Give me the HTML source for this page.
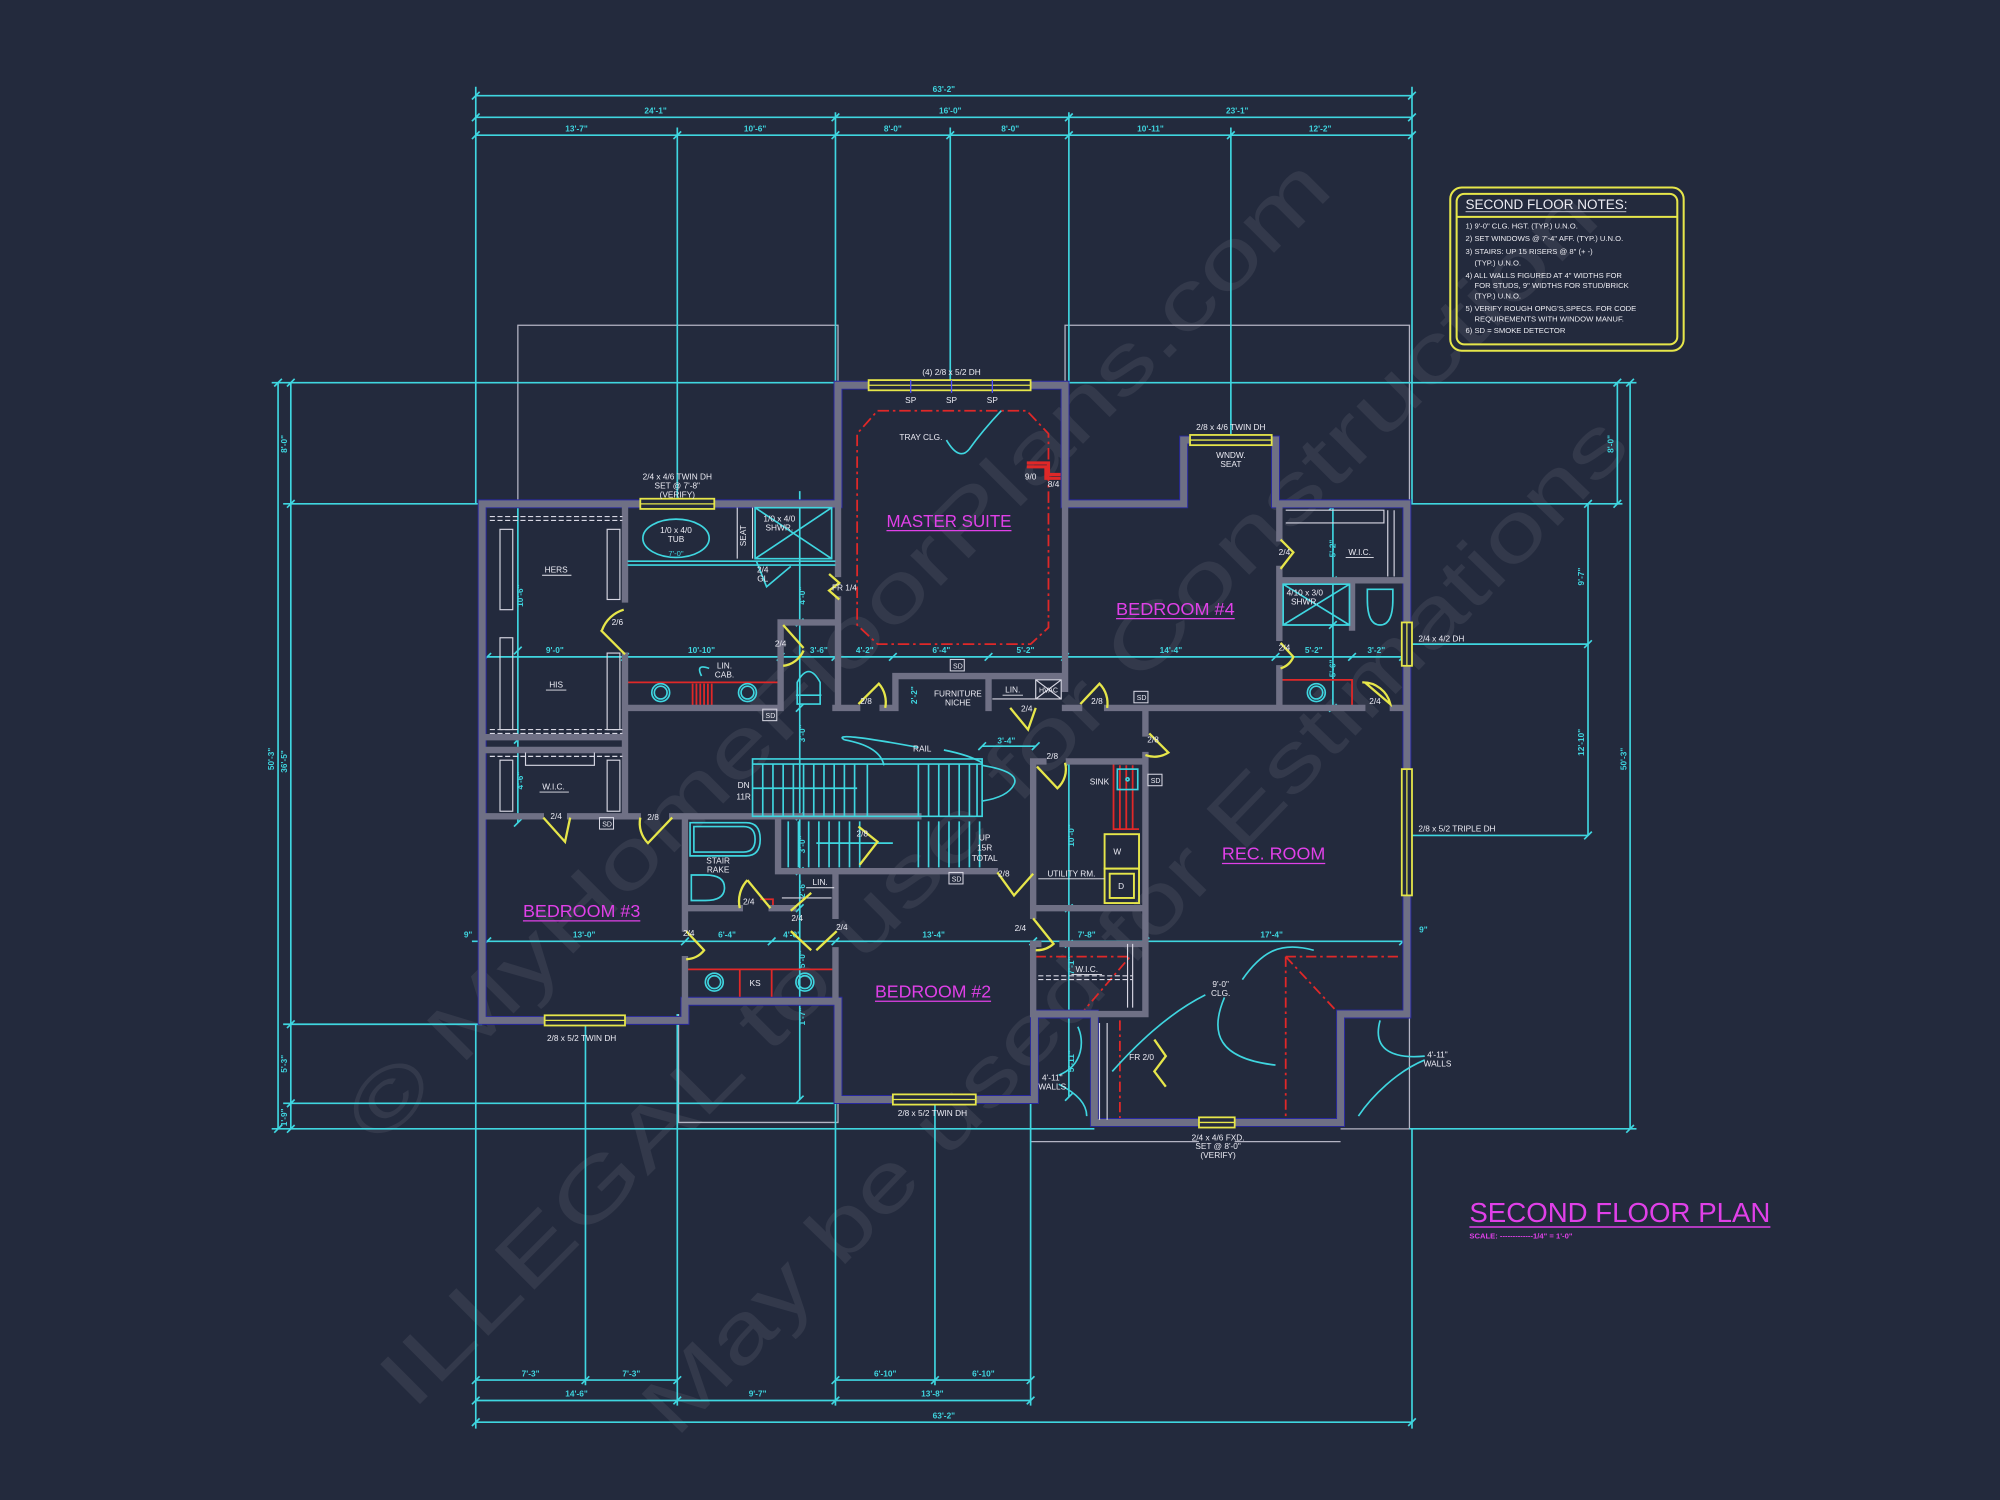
<!DOCTYPE html>
<html><head><meta charset="utf-8">
<style>
html,body{margin:0;padding:0;background:#232a3d;overflow:hidden}
svg{display:block}
text{font-family:"Liberation Sans",sans-serif}
</style></head><body>
<svg width="2000" height="1500" viewBox="0 0 1568 1176" xmlns="http://www.w3.org/2000/svg">
<rect width="1568" height="1176" fill="#232a3d"/>

<!-- watermark -->
<g font-family="Liberation Serif, serif" fill="#ffffff" opacity="0.07" font-size="64">
<text x="672" y="525" text-anchor="middle" transform="rotate(-45 672 525)" textLength="1060" lengthAdjust="spacingAndGlyphs">© MyHomeFloorPlans.com</text>
<text x="790" y="640" text-anchor="middle" transform="rotate(-45 790 640)" textLength="1320" lengthAdjust="spacingAndGlyphs">ILLEGAL to use for Construction</text>
<text x="905" y="740" text-anchor="middle" transform="rotate(-46 905 740)" textLength="1080" lengthAdjust="spacingAndGlyphs">May be used for Estimations</text>
</g>

<!-- roof / outline lines -->
<g stroke="#b4b4c4" stroke-width="1" fill="none">
<path d="M406,395V255H657V302 M835,302V255H1105V885H1051 M532,795V880H657V865 M808,862V895H940 M968,895H1051"/>
</g>

<!-- dimension lines -->
<g stroke="#3fd6e0" stroke-width="1.3" fill="none">
<path d="M373,75H1107 M373,92H1107 M373,106H1107"/>
<path d="M373,68V395 M531,100V393 M655,88V302 M745,100V300 M838,88V300 M965,100V343 M1107,68V395"/>
<path d="M218,300V885 M228,300V885 M213,300H657 M835,300H1283 M222,395H378 M222,803H378 M222,865H657 M213,885H858 M1105,885H1283 M1105,395H1272 M1107,505H1245 M1107,655H1245 M1278,300V885 M1268,300V395 M1245,395V655"/>
<path d="M373,1082H531 M655,1082H808 M373,1098H808 M373,1115H1107 M373,803V1120 M459,803V1086 M531,795V1102 M655,865V1102 M733,865V1086 M808,862V1102 M1107,885V1120"/>
<path d="M382,515H1100 M370,738H1100 M406,395V645 M627,385V862 M1045,397V555 M838,598V860 M770,585H812"/>
<path d="M370,78l6,-6 M1104,78l6,-6 M370,95l6,-6 M652,95l6,-6 M835,95l6,-6 M1104,95l6,-6 M370,109l6,-6 M528,109l6,-6 M652,109l6,-6 M742,109l6,-6 M835,109l6,-6 M962,109l6,-6 M1104,109l6,-6
M215,303l6,-6 M215,888l6,-6 M225,303l6,-6 M225,398l6,-6 M225,806l6,-6 M225,868l6,-6 M225,888l6,-6 M1275,303l6,-6 M1275,888l6,-6 M1265,303l6,-6 M1265,398l6,-6 M1242,398l6,-6 M1242,508l6,-6 M1242,658l6,-6
M370,1085l6,-6 M456,1085l6,-6 M528,1085l6,-6 M652,1085l6,-6 M730,1085l6,-6 M805,1085l6,-6 M370,1101l6,-6 M528,1101l6,-6 M652,1101l6,-6 M805,1101l6,-6 M370,1118l6,-6 M1104,1118l6,-6
M379,518l6,-6 M487,518l6,-6 M609,518l6,-6 M652,518l6,-6 M697,518l6,-6 M772,518l6,-6 M832,518l6,-6 M997,518l6,-6 M1057,518l6,-6 M1097,518l6,-6
M379,741l6,-6 M534,741l6,-6 M602,741l6,-6 M652,741l6,-6 M807,741l6,-6 M895,741l6,-6 M1097,741l6,-6
M403,398l6,-6 M403,513l6,-6 M403,583l6,-6 M403,648l6,-6 M624,398l6,-6 M624,491l6,-6 M624,558l6,-6 M624,643l6,-6 M624,686l6,-6 M624,715l6,-6 M624,788l6,-6 M624,865l6,-6
M1042,400l6,-6 M1042,458l6,-6 M1042,493l6,-6 M1042,558l6,-6 M835,601l6,-6 M835,715l6,-6 M835,743l6,-6 M835,798l6,-6 M835,863l6,-6 M767,588l6,-6 M809,588l6,-6"/>
</g>

<!-- dimension text -->
<g fill="#3fd6e0" font-size="6.5" text-anchor="middle" font-weight="bold">
<text x="740" y="72">63'-2"</text>
<text x="514" y="89">24'-1"</text><text x="745" y="89">16'-0"</text><text x="970" y="89">23'-1"</text>
<text x="452" y="103">13'-7"</text><text x="592" y="103">10'-6"</text><text x="700" y="103">8'-0"</text><text x="792" y="103">8'-0"</text><text x="902" y="103">10'-11"</text><text x="1035" y="103">12'-2"</text>
<text x="416" y="1079">7'-3"</text><text x="495" y="1079">7'-3"</text><text x="694" y="1079">6'-10"</text><text x="771" y="1079">6'-10"</text>
<text x="452" y="1095">14'-6"</text><text x="594" y="1095">9'-7"</text><text x="731" y="1095">13'-8"</text>
<text x="740" y="1112">63'-2"</text>
<text transform="translate(215,595) rotate(-90)">50'-3"</text>
<text transform="translate(225,348) rotate(-90)">8'-0"</text>
<text transform="translate(225,597) rotate(-90)">36'-5"</text>
<text transform="translate(225,834) rotate(-90)">5'-3"</text>
<text transform="translate(225,876) rotate(-90)">1'-9"</text>
<text transform="translate(1265,348) rotate(-90)">8'-0"</text>
<text transform="translate(1242,452) rotate(-90)">9'-7"</text>
<text transform="translate(1242,582) rotate(-90)">12'-10"</text>
<text transform="translate(1275,595) rotate(-90)">50'-3"</text>
<text x="435" y="512">9'-0"</text><text x="550" y="512">10'-10"</text><text x="642" y="512">3'-6"</text><text x="678" y="512">4'-2"</text><text x="738" y="512">6'-4"</text><text x="804" y="512">5'-2"</text><text x="918" y="512">14'-4"</text><text x="1030" y="512">5'-2"</text><text x="1079" y="512">3'-2"</text>
<text x="367" y="735">9"</text><text x="458" y="735">13'-0"</text><text x="570" y="735">6'-4"</text><text x="621" y="735">4'-0"</text><text x="732" y="735">13'-4"</text><text x="852" y="735">7'-8"</text><text x="997" y="735">17'-4"</text><text x="1116" y="731">9"</text>
<text x="789" y="583">3'-4"</text>
<text transform="translate(410,467) rotate(-90)">10'-6"</text>
<text transform="translate(410,612) rotate(-90)">4'-6"</text>
<text transform="translate(631,467) rotate(-90)">4'-0"</text>
<text transform="translate(631,575) rotate(-90)">3'-0"</text>
<text transform="translate(631,662) rotate(-90)">3'-0"</text>
<text transform="translate(631,697) rotate(-90)">2'-6"</text>
<text transform="translate(631,752) rotate(-90)">5'-0"</text>
<text transform="translate(631,797) rotate(-90)">1'-7"</text>
<text transform="translate(1047,430) rotate(-90)">5'-2"</text>
<text transform="translate(1047,524) rotate(-90)">5'-6"</text>
<text transform="translate(842,655) rotate(-90)">10'-0"</text>
<text transform="translate(842,757) rotate(-90)">7'-1"</text>
<text transform="translate(842,832) rotate(-90)">5'-11"</text>
<text transform="translate(719,545) rotate(-90)">2'-2"</text>
</g>

<!-- red elements -->
<g stroke="#e02828" stroke-width="1.4" fill="none">
<path d="M688,322H805L822,340V492L808,505H688L672,490V340Z" stroke-dasharray="9 3 2 3"/>
<path d="M805,363H822V372H835 M805,366H820V375H835" stroke-width="2.5"/>
<path d="M490,535H612 M537,760H655 M580,760V785 M605,760V785 M1005,533H1060V555 M873,598V650H893 M878,600V650 M883,600V650 M888,600V650"/>
<path d="M543,536V553 M546,536V553 M549,536V553 M552,536V553 M555,536V553 M558,536V553"/>
<path d="M812,750H886L850,792 M1008,750H1098 M1008,750V880 M1008,750L1050,795 M878,800V880" stroke-dasharray="8 3 2 3"/>
<path d="M596,705H606V712"/>
</g>

<!-- walls -->
<g fill="none" stroke-linecap="square">
<path d="M378,395H657V302H835V395H928V345H1000V395H1103V795H1051V880H858V795H811V862H657V785H537V800H378Z" stroke="#2828a0" stroke-width="7"/>
<path d="M378,395H657V302H835V395H928V345H1000V395H1103V795H1051V880H858V795H811V862H657V785H537V800H378Z" stroke="#6f7085" stroke-width="5.5"/>
<path stroke="#6f7085" stroke-width="5" d="
M490,395V470 M490,514V640
M382,578H490 M382,588H490
M382,640H424 M447,640H500 M527,640H610
M490,555H612 M612,488V555 M612,488H655
M657,302V450 M657,470V555
M835,302V360 M835,380V540
M655,555H672 M692,555H702 M702,530V555 M702,530H835 M775,530V555
M835,555H846 M868,555H1003
M1003,395V422 M1003,446V500 M1003,524V555 M1003,555H1068 M1092,555H1103
M1003,455H1103 M1060,455V492
M537,640V728 M537,752V785
M610,640V683 M612,683H780
M537,712H580 M605,712H622
M655,683V718 M655,745V785
M810,597V718 M810,745V795
M810,597H818 M838,597H898
M898,555V575 M898,592V795
M810,712H898 M810,740H814 M833,740H898
M858,795V880 M810,795H898
M590,640H720"/>
</g>

<!-- closets white lines -->
<g stroke="#d8d8e4" stroke-width="0.9" fill="none">
<path d="M384,405H488 M384,408H488 M384,572H488 M384,575H488 M384,593H488" stroke-dasharray="4 2"/>
<rect x="392" y="415" width="10" height="63"/><rect x="476" y="415" width="10" height="55"/>
<rect x="392" y="500" width="10" height="72"/><rect x="476" y="512" width="10" height="60"/>
<rect x="392" y="596" width="10" height="40"/><rect x="476" y="596" width="10" height="40"/>
<path d="M412,590V600H466V590"/>
<path d="M1008,400H1085V410H1008 M1088,400V452 M1093,400V452"/>
<path d="M814,765H888 M814,768H888" stroke-dasharray="4 2"/>
<path d="M884,740V790 M888,740V790"/>
<path d="M578,398V438 M590,398V438"/>
<path d="M862,802V878 M868,802V878"/>
</g>

<!-- cyan fixtures -->
<g stroke="#3fd6e0" stroke-width="1.3" fill="none">
<ellipse cx="530" cy="422" rx="26" ry="15"/>
<path d="M492,440H655 M492,443H655"/>
<path d="M592,398H652V438H592Z M592,398L652,438 M652,398L592,438"/>
<path d="M593,440L601,460L620,444"/>
<circle cx="518" cy="543" r="7"/><circle cx="518" cy="543" r="5"/>
<circle cx="586" cy="543" r="7"/><circle cx="586" cy="543" r="5"/>
<path d="M625,552V535Q634,518 643,535V552Z M624,545H644"/>
<circle cx="1032" cy="543" r="7"/><circle cx="1032" cy="543" r="5"/>
<path d="M1072,462H1092V470Q1092,490 1082,490Q1072,490 1072,470Z"/>
<path d="M1006,458H1058V490H1006Z M1006,490L1058,458 M1006,458L1058,490"/>
<path d="M541,645H585Q596,645 596,658Q596,671 585,671H541Z M544,648H583Q592,648 592,658Q592,668 583,668H544Z"/>
<path d="M542,686H553Q568,686 568,696Q568,706 553,706H542Z"/>
<circle cx="560" cy="770" r="7"/><circle cx="560" cy="770" r="5"/>
<circle cx="631" cy="770" r="7"/><circle cx="631" cy="770" r="5"/>
<rect x="876" y="603" width="16" height="16"/><circle cx="884" cy="611" r="1.2"/>
<path d="M590,595H770V640H590Z M590,599H770"/>
<path d="M598,599V640 M606,599V640 M614,599V640 M622,599V640 M630,599V640 M638,599V640 M646,599V640 M654,599V640 M662,599V640 M670,599V640 M680,599V640 M720,599V640 M728,599V640 M736,599V640 M744,599V640 M752,599V640 M760,599V640 M766,599V640"/>
<path d="M590,618H672"/>
<path d="M618,644V680 M626,644V680 M634,644V680 M642,644V680 M650,644V680 M658,644V680 M666,644V680 M674,644V680 M720,644V680 M728,644V680 M736,644V680 M744,644V680 M752,644V680 M760,644V680 M768,644V680"/>
<path d="M640,661H700"/>
<path d="M662,580Q690,585 693,600 M662,580Q650,573 720,586 M740,588Q760,592 770,598 M770,600Q800,605 795,615Q790,625 770,628"/>
<path d="M742,345Q752,362 760,352Q770,338 785,322"/>
<path d="M945,780C915,795 890,820 872,840 M974,768C990,745 1005,738 1030,745 M960,782C948,810 955,830 1000,835 M1117,828C1095,830 1075,825 1082,800 M1117,831C1095,840 1075,860 1065,875 M830,843C850,835 850,815 845,805 M830,850C850,860 852,870 852,875"/>
<path d="M556,524Q545,520 550,530"/>
</g>

<g stroke="#d8d8e4" stroke-width="0.9" fill="none">
<path d="M778,548H832 M812,533H832V548H812Z M812,533L832,548 M832,533L812,548"/>
<path d="M613,704H652"/>
</g>

<g stroke="#e6e64a" stroke-width="1.5" fill="none">
<rect x="866" y="654" width="27" height="27"/>
<rect x="866" y="681" width="27" height="27"/>
<rect x="870" y="685" width="19" height="19"/>
</g>

<!-- windows -->
<g stroke="#e6e64a" stroke-width="1.4" fill="#232a3d">
<rect x="681" y="298" width="127" height="8"/>
<rect x="502" y="391" width="58" height="8"/>
<rect x="933" y="341" width="64" height="8"/>
<rect x="427" y="796" width="63" height="8"/>
<rect x="700" y="858" width="65" height="8"/>
<rect x="940" y="876" width="28" height="8"/>
<rect x="1099" y="488" width="8" height="34"/>
<rect x="1099" y="603" width="8" height="99"/>
</g>
<g stroke="#e6e64a" stroke-width="1" fill="none">
<path d="M681,302H808 M502,395H560 M933,345H997 M427,800H490 M700,862H765 M940,880H968 M1103,488V522 M1103,603V702"/>
</g>
<g stroke="#5050ff" stroke-width="1">
<path d="M714,298V308 M746,298V308 M778,298V308"/>
</g>

<!-- doors -->
<g stroke="#e6e64a" stroke-width="1.8" fill="none">
<path d="M490,513L471,494 M472,494A26,26 0 0 1 489,478"/>
<path d="M614,490L630,508 M630,510A20,20 0 0 1 614,522"/>
<path d="M650,450L658,457L650,463L658,470"/>
<path d="M426,641L443,660L447,641"/>
<path d="M527,641L508,661A22,22 0 0 1 502,641"/>
<path d="M586,690L604,712 M580,712A24,24 0 0 1 586,690"/>
<path d="M620,714L636,700 M620,730L636,745 M640,745L656,730"/>
<path d="M538,730L552,745A18,18 0 0 1 538,752"/>
<path d="M673,552L689,536A22,22 0 0 1 694,555"/>
<path d="M792,555L806,572L812,555"/>
<path d="M847,552L862,536A22,22 0 0 1 868,555"/>
<path d="M901,575L916,590A20,20 0 0 1 898,592"/>
<path d="M813,601L829,618A20,20 0 0 0 835,598"/>
<path d="M782,684L795,702L810,685"/>
<path d="M810,720L826,740A20,20 0 0 1 812,745"/>
<path d="M1004,423L1014,433L1004,446"/>
<path d="M1004,504L1014,515A16,16 0 0 1 1004,524"/>
<path d="M1070,535L1090,552A22,22 0 0 0 1068,535"/>
<path d="M905,815L914,828L905,840L914,852"/>
<path d="M673,648L688,660L674,678"/>
</g>

<g stroke="#d8d8e4" stroke-width="0.8" fill="none">
<rect x="598" y="556" width="11" height="9"/><rect x="470" y="641" width="11" height="9"/><rect x="744" y="684" width="11" height="9"/><rect x="745" y="517" width="11" height="9"/><rect x="889" y="542" width="11" height="9"/><rect x="900" y="607" width="11" height="9"/>
</g>

<!-- white labels -->
<g fill="#ececf4" font-size="6.5" text-anchor="middle">
<text x="604" y="563" font-size="5.5">SD</text><text x="476" y="648" font-size="5.5">SD</text><text x="750" y="691" font-size="5.5">SD</text><text x="751" y="524" font-size="5.5">SD</text><text x="895" y="549" font-size="5.5">SD</text><text x="906" y="614" font-size="5.5">SD</text>
<text x="746" y="294">(4) 2/8 x 5/2 DH</text>
<text x="714" y="316">SP</text><text x="746" y="316">SP</text><text x="778" y="316">SP</text>
<text x="722" y="345">TRAY CLG.</text>
<text x="808" y="376">9/0</text><text x="826" y="382">8/4</text>
<text x="965" y="337">2/8 x 4/6 TWIN DH</text>
<text x="965" y="359">WNDW.</text><text x="965" y="366">SEAT</text>
<text x="531" y="376">2/4 x 4/6 TWIN DH</text><text x="531" y="383">SET @ 7'-8"</text><text x="531" y="390">(VERIFY)</text>
<text x="530" y="418">1/0 x 4/0</text><text x="530" y="425">TUB</text>
<text x="611" y="409">1/0 x 4/0</text><text x="611" y="416">SHWR.</text>
<text transform="translate(585,420) rotate(-90)">SEAT</text>
<text x="598" y="449">2/4</text><text x="598" y="456">GL</text>
<text x="662" y="463">FR 1/4</text>
<text x="436" y="449">HERS</text><text x="436" y="539">HIS</text><text x="434" y="619">W.I.C.</text>
<text x="484" y="490">2/6</text>
<text x="612" y="507">2/4</text>
<text x="568" y="524">LIN.</text><text x="568" y="531">CAB.</text>
<text x="751" y="546">FURNITURE</text><text x="751" y="553">NICHE</text>
<text x="794" y="543">LIN.</text><text x="822" y="543" font-size="5.5">HVAC</text>
<text x="679" y="552">2/8</text><text x="805" y="558">2/4</text><text x="860" y="552">2/8</text><text x="904" y="582">2/8</text><text x="825" y="595">2/8</text>
<text x="583" y="618">DN</text><text x="583" y="627">11R</text>
<text x="723" y="589">RAIL</text>
<text x="772" y="659">UP</text><text x="772" y="667">15R</text><text x="772" y="675">TOTAL</text>
<text x="676" y="656">2/8</text><text x="787" y="687">2/8</text>
<text x="563" y="677">STAIR</text><text x="563" y="684">RAKE</text>
<text x="643" y="694">LIN.</text>
<text x="436" y="642">2/4</text><text x="512" y="643">2/8</text>
<text x="587" y="709">2/4</text><text x="625" y="722">2/4</text><text x="660" y="729">2/4</text><text x="540" y="734">2/4</text><text x="800" y="730">2/4</text>
<text x="592" y="773">KS</text>
<text x="862" y="615">SINK</text>
<text x="840" y="687">UTILITY RM.</text>
<text x="876" y="670">W</text><text x="879" y="697">D</text>
<text x="852" y="762">W.I.C.</text>
<text x="1066" y="435">W.I.C.</text>
<text x="1007" y="435">2/4</text><text x="1007" y="510">2/4</text><text x="1078" y="552">2/4</text>
<text x="1023" y="467">4/10 x 3/0</text><text x="1023" y="474">SHWR.</text>
<text x="957" y="774">9'-0"</text><text x="957" y="781">CLG.</text>
<text x="1127" y="829">4'-11"</text><text x="1127" y="836">WALLS</text>
<text x="825" y="847">4'-11"</text><text x="825" y="854">WALLS</text>
<text x="895" y="831">FR 2/0</text>
<text x="456" y="816">2/8 x 5/2 TWIN DH</text>
<text x="731" y="875">2/8 x 5/2 TWIN DH</text>
<text x="955" y="894">2/4 x 4/6 FXD.</text><text x="955" y="901">SET @ 8'-0"</text><text x="955" y="908">(VERIFY)</text>
<text x="1112" y="503" text-anchor="start">2/4 x 4/2 DH</text>
<text x="1112" y="652" text-anchor="start">2/8 x 5/2 TRIPLE DH</text>
</g>
<g stroke="#e8e8f0" stroke-width="0.7">
<path d="M425,451H448 M428,541H444 M423,621H446 M1055,437H1077 M840,764H864 M814,689H866 M632,696H654 M786,545H802"/>
</g>
<g fill="#3fd6e0" font-size="6" text-anchor="middle"><text x="530" y="436">7'-0"</text></g>

<!-- room titles -->
<g fill="#e040e8" font-size="14">
<text x="695" y="413" textLength="98" lengthAdjust="spacingAndGlyphs">MASTER SUITE</text>
<text x="875" y="482" textLength="93" lengthAdjust="spacingAndGlyphs">BEDROOM #4</text>
<text x="410" y="719" textLength="92" lengthAdjust="spacingAndGlyphs">BEDROOM #3</text>
<text x="686" y="782" textLength="91" lengthAdjust="spacingAndGlyphs">BEDROOM #2</text>
<text x="958" y="674" textLength="81" lengthAdjust="spacingAndGlyphs">REC. ROOM</text>
</g>
<g stroke="#e040e8" stroke-width="1">
<path d="M695,416H793 M875,485H968 M410,722H502 M686,785H777 M958,677H1039"/>
</g>

<!-- notes box -->
<g stroke="#e6e64a" stroke-width="1.6" fill="none">
<rect x="1137" y="147" width="183" height="128" rx="9"/>
<rect x="1142" y="152" width="173" height="118" rx="6"/>
<path d="M1142,170H1315"/>
</g>
<g fill="#ececf2" font-size="6">
<text x="1149" y="164" font-size="10.5" textLength="127" lengthAdjust="spacingAndGlyphs">SECOND FLOOR NOTES:</text>
<text x="1149" y="179">1) 9'-0"  CLG. HGT. (TYP.) U.N.O.</text>
<text x="1149" y="189">2) SET WINDOWS @ 7'-4" AFF. (TYP.) U.N.O.</text>
<text x="1149" y="199">3) STAIRS: UP 15 RISERS @ 8" (+ -)</text>
<text x="1156" y="208">(TYP.) U.N.O.</text>
<text x="1149" y="218">4) ALL WALLS FIGURED AT 4" WIDTHS FOR</text>
<text x="1156" y="226">FOR STUDS, 9" WIDTHS FOR STUD/BRICK</text>
<text x="1156" y="234">(TYP.) U.N.O.</text>
<text x="1149" y="244">5) VERIFY ROUGH OPNG'S,SPECS. FOR CODE</text>
<text x="1156" y="252">REQUIREMENTS WITH WINDOW MANUF.</text>
<text x="1149" y="261">6) SD = SMOKE DETECTOR</text>
</g>
<path d="M1149,166H1275" stroke="#ececf2" stroke-width="0.6"/>

<!-- title -->
<g fill="#e040e8">
<text x="1152" y="958" font-size="22" textLength="236" lengthAdjust="spacingAndGlyphs">SECOND FLOOR PLAN</text>
<text x="1152" y="971" font-size="6" font-weight="bold">SCALE: -------------1/4" = 1'-0"</text>
</g>
<path d="M1152,962H1388" stroke="#e040e8" stroke-width="1.2"/>
</svg>
</body></html>
